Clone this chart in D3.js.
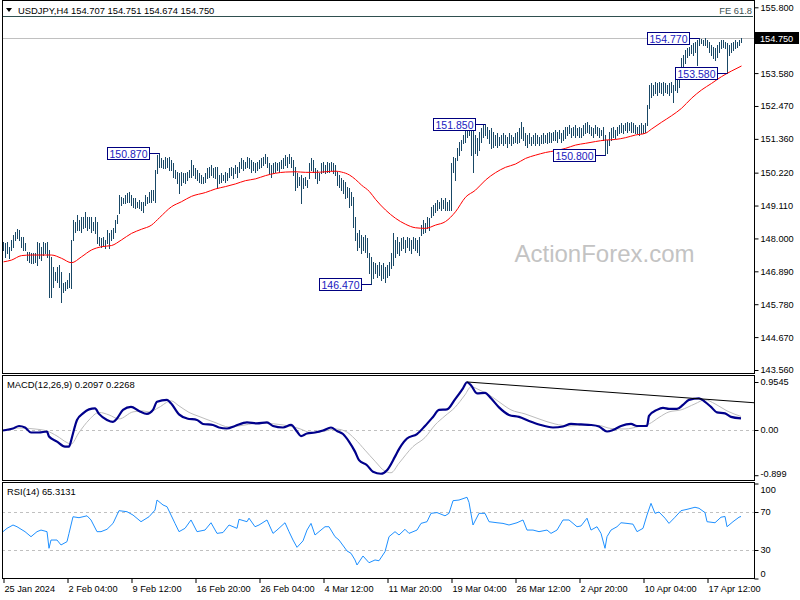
<!DOCTYPE html>
<html><head><meta charset="utf-8">
<script src="https://cdn.jsdelivr.net/npm/d3@7"></script>
<style>
body{margin:0;background:#fff}
svg{display:block}
text{font-family:"Liberation Sans",Arial,sans-serif}
</style>
</head><body>
<svg id="c" width="800" height="600"></svg>
<script>
// ---------------- DATA ----------------
const title = "USDJPY,H4  154.707 154.751 154.674 154.750";
const macdTitle = "MACD(12,26,9) 0.2097 0.2268";
const rsiTitle = "RSI(14) 65.3131";
const feLabel = "FE 61.8";
const fePrice = 155.52;
const lastPrice = 154.750;

const highs = [
147.89,147.83,147.89,147.72,147.95,148.12,148.23,148.31,148.28,148.06,
148.06,147.83,147.55,147.55,147.50,147.50,147.50,147.89,147.83,147.72,
147.89,147.83,147.89,147.61,147.38,147.05,146.88,147.05,147.10,146.88,
146.48,146.54,146.60,146.82,147.95,148.62,148.57,148.79,148.62,148.73,
148.73,148.90,148.73,148.73,148.73,148.57,148.73,148.57,148.06,148.00,
148.06,147.95,148.28,148.17,148.28,148.34,148.62,148.79,149.47,149.41,
149.35,149.47,149.52,149.58,149.47,149.35,149.35,149.24,149.30,149.24,
149.24,149.47,149.41,149.58,149.63,149.63,150.31,150.82,150.87,150.70,
150.65,150.76,150.70,150.76,150.65,150.53,150.31,150.25,150.20,150.25,
150.20,150.20,150.25,150.31,150.65,150.48,150.37,150.31,150.20,150.14,
150.08,150.20,150.37,150.42,150.48,150.37,150.42,150.42,150.14,150.20,
150.14,150.25,150.20,150.37,150.42,150.37,150.48,150.42,150.59,150.70,
150.65,150.59,150.76,150.70,150.65,150.59,150.53,150.59,150.65,150.70,
150.76,150.85,150.76,150.53,150.48,150.53,150.59,150.53,150.59,150.65,
150.70,150.81,150.76,150.85,150.76,150.65,150.42,150.20,150.08,150.14,
150.03,150.08,149.97,150.53,150.70,150.65,150.37,150.31,150.20,150.53,
150.59,150.48,150.59,150.53,150.59,150.53,150.48,150.25,150.14,150.03,
149.97,149.92,149.75,149.69,149.58,149.41,148.73,148.17,148.28,148.12,
148.06,148.12,148.00,147.50,147.38,147.22,147.16,147.10,147.22,147.10,
147.16,147.05,147.10,147.22,147.50,148.17,147.95,148.06,147.89,148.00,
148.06,147.95,148.06,148.00,147.95,148.06,148.00,147.95,148.06,148.45,
148.62,148.51,148.73,148.68,149.07,149.13,149.18,149.30,149.24,149.35,
149.30,149.35,149.24,149.30,150.53,150.76,150.70,151.04,151.27,151.32,
151.49,151.66,151.77,151.82,151.85,151.72,151.49,151.38,151.60,151.72,
151.83,151.85,151.77,151.66,151.72,151.60,151.49,151.55,151.43,151.49,
151.55,151.49,151.43,151.55,151.49,151.43,151.55,151.60,151.72,151.94,
151.77,151.55,151.49,151.55,151.43,151.49,151.55,151.49,151.43,151.49,
151.55,151.49,151.55,151.60,151.55,151.60,151.66,151.60,151.66,151.55,
151.66,151.77,151.77,151.83,151.72,151.77,151.83,151.72,151.77,151.72,
151.83,151.88,151.94,151.83,151.77,151.72,151.83,151.77,151.72,151.66,
151.77,151.49,151.32,151.60,151.72,151.77,151.66,151.77,151.83,151.88,
151.83,151.88,151.94,151.88,151.94,151.88,151.83,151.77,151.83,151.88,
151.83,151.88,152.50,153.18,153.23,153.18,153.29,153.23,153.29,153.23,
153.29,153.23,153.18,153.23,153.29,153.18,153.40,153.35,153.80,154.08,
154.19,154.36,154.41,154.47,154.53,154.58,154.64,154.70,154.77,154.73,
154.70,154.75,154.70,154.64,154.53,154.47,154.41,154.53,154.64,154.70,
154.70,154.64,154.58,154.53,154.58,154.64,154.70,154.64,154.70,154.75
];
const lows = [
147.61,147.38,147.50,147.33,147.61,147.72,147.95,148.00,147.95,147.72,
147.61,147.61,147.27,147.22,147.16,147.16,147.22,147.10,147.33,147.27,
147.44,147.50,147.38,146.03,146.03,146.37,146.60,146.54,146.37,145.87,
146.20,146.26,146.32,146.37,146.32,147.95,148.23,148.28,148.28,148.23,
148.34,148.40,148.28,148.34,148.23,148.28,148.17,147.83,147.78,147.72,
147.78,147.67,147.83,147.67,147.95,148.00,148.23,148.51,148.85,149.13,
149.18,149.18,149.24,149.24,149.13,149.07,149.02,149.07,149.02,148.96,
148.90,149.13,149.18,149.24,149.24,149.30,149.24,150.20,150.42,150.42,
150.37,150.37,150.42,150.31,150.31,150.08,150.03,149.86,149.52,149.80,
149.92,149.86,149.97,150.08,150.08,150.14,150.03,149.97,149.92,149.86,
149.86,149.92,150.03,150.08,150.14,150.08,150.03,149.69,149.86,149.92,
149.97,149.92,149.97,150.08,150.14,150.03,150.20,150.08,150.25,150.37,
150.31,150.37,150.42,150.37,150.25,150.31,150.25,150.31,150.37,150.42,
150.48,150.53,150.42,150.20,150.08,150.20,150.25,150.31,150.25,150.37,
150.37,150.48,150.42,150.53,150.42,150.14,149.63,149.75,149.80,149.18,
149.69,149.80,149.75,150.03,150.31,150.25,150.03,149.86,149.97,150.20,
150.25,150.20,150.25,150.25,150.31,150.20,150.14,149.80,149.75,149.63,
149.52,149.35,149.41,149.07,149.13,148.40,147.95,147.61,147.72,147.50,
147.61,147.55,147.38,146.82,146.47,146.65,146.82,146.71,146.77,146.60,
146.65,146.54,146.71,146.77,146.99,147.10,147.38,147.50,147.44,147.61,
147.67,147.55,147.72,147.61,147.50,147.67,147.61,147.55,147.44,148.12,
148.17,148.23,148.34,148.28,148.73,148.79,148.90,148.96,149.02,148.96,
149.02,148.96,148.96,148.96,148.96,150.25,149.97,150.65,150.81,150.98,
151.21,151.27,151.43,151.49,150.81,150.25,150.87,150.81,150.98,151.27,
151.43,151.49,151.38,151.21,151.04,151.10,151.15,151.10,151.15,151.21,
151.15,151.21,151.10,151.21,151.15,151.21,151.27,151.21,151.27,151.38,
151.32,151.15,151.10,151.21,151.15,151.21,151.15,151.21,151.15,151.21,
151.21,151.27,151.21,151.27,151.27,151.32,151.32,151.27,151.38,151.27,
151.32,151.38,151.49,151.55,151.43,151.49,151.43,151.49,151.43,151.43,
151.49,151.55,151.60,151.55,151.49,151.43,151.55,151.49,151.43,151.49,
151.32,150.80,150.87,151.15,151.32,151.43,151.38,151.49,151.55,151.60,
151.55,151.66,151.60,151.66,151.60,151.60,151.55,151.55,151.49,151.55,
151.55,151.60,151.83,152.39,152.78,152.84,152.90,152.84,152.95,152.90,
152.84,152.95,152.90,152.84,152.95,152.62,153.01,152.95,153.12,153.63,
153.74,153.91,154.13,154.19,154.25,154.19,154.30,153.85,154.53,154.58,
154.53,154.53,154.47,154.30,154.19,154.08,154.02,154.13,154.30,154.41,
154.47,154.41,153.58,154.19,154.30,154.36,154.41,154.47,154.53,154.64
];

// moving average [bar, value]
const maPts = [[0,147.21],[4,147.27],[9,147.42],[14,147.44],[19,147.44],[24,147.44],[29,147.33],[34,147.18],[39,147.38],[44,147.61],[49,147.72],[54,147.76],[59,147.95],[64,148.17],[69,148.31],[74,148.45],[78,148.70],[84,149.07],[89,149.24],[94,149.42],[101,149.55],[106,149.67],[111,149.75],[116,149.84],[121,149.95],[126,150.01],[131,150.12],[136,150.20],[141,150.24],[146,150.25],[151,150.23],[156,150.23],[161,150.25],[166,150.27],[169,150.24],[173,150.14],[176,149.99],[179,149.80],[183,149.58],[186,149.32],[191,148.96],[196,148.68],[201,148.48],[206,148.36],[211,148.34],[216,148.45],[221,148.57],[226,148.90],[231,149.39],[236,149.63],[241,149.97],[246,150.22],[251,150.40],[256,150.51],[261,150.70],[266,150.81],[271,150.90],[276,150.96],[281,151.04],[286,151.15],[291,151.21],[296,151.27],[301,151.32],[306,151.34],[311,151.40],[316,151.49],[321,151.55],[324,151.69],[329,151.92],[334,152.14],[339,152.39],[344,152.73],[349,153.01],[354,153.23],[359,153.46],[364,153.65],[369,153.82]];

// MACD main [bar, value]
const macdPts = [[0,-0.01],[5,0.03],[8,0.08],[11,0.05],[14,-0.05],[18,-0.05],[22,-0.03],[23,-0.13],[27,-0.23],[31,-0.33],[33,-0.33],[34,-0.22],[35,-0.07],[37,0.20],[40,0.33],[43,0.41],[46,0.43],[48,0.32],[52,0.20],[55,0.16],[57,0.23],[60,0.40],[64,0.46],[68,0.38],[72,0.32],[75,0.40],[77,0.56],[82,0.60],[84,0.53],[88,0.31],[92,0.23],[97,0.20],[100,0.12],[105,0.10],[108,0.05],[112,0.03],[116,0.08],[122,0.15],[127,0.13],[132,0.15],[135,0.08],[140,0.05],[144,0.10],[147,-0.03],[149,-0.12],[152,-0.07],[156,-0.05],[160,-0.01],[164,0.05],[167,-0.02],[170,-0.08],[173,-0.23],[176,-0.43],[178,-0.60],[182,-0.70],[185,-0.83],[189,-0.87],[192,-0.80],[196,-0.53],[198,-0.38],[202,-0.17],[207,-0.08],[211,0.08],[215,0.26],[218,0.40],[222,0.41],[226,0.61],[230,0.83],[232,0.95],[234,0.89],[237,0.73],[241,0.74],[244,0.63],[248,0.45],[253,0.30],[258,0.26],[263,0.18],[268,0.11],[275,0.05],[280,0.07],[284,0.12],[289,0.11],[294,0.10],[298,0.07],[302,-0.03],[305,0.00],[309,0.08],[314,0.12],[317,0.08],[322,0.08],[323,0.28],[327,0.40],[330,0.44],[333,0.42],[337,0.42],[340,0.50],[343,0.60],[348,0.63],[351,0.56],[354,0.46],[357,0.35],[361,0.33],[364,0.26],[369,0.23]];

// MACD signal [bar, value]
const sigPts = [[0,0.00],[8,0.04],[16,0.02],[22,-0.02],[27,-0.12],[32,-0.25],[34,-0.28],[38,-0.05],[43,0.20],[48,0.35],[53,0.30],[58,0.22],[65,0.36],[70,0.38],[73,0.36],[78,0.45],[84,0.58],[88,0.48],[93,0.35],[98,0.27],[106,0.15],[113,0.06],[121,0.10],[128,0.14],[136,0.12],[143,0.08],[148,0.03],[154,-0.05],[161,-0.02],[166,0.02],[171,-0.02],[176,-0.18],[181,-0.40],[186,-0.62],[191,-0.82],[194,-0.85],[198,-0.66],[205,-0.33],[211,-0.15],[216,0.10],[221,0.28],[226,0.45],[231,0.70],[234,0.86],[238,0.80],[243,0.70],[248,0.56],[254,0.40],[261,0.32],[268,0.22],[276,0.12],[283,0.08],[291,0.10],[298,0.09],[304,0.03],[311,0.02],[318,0.07],[323,0.12],[328,0.25],[333,0.36],[339,0.40],[346,0.52],[351,0.60],[356,0.52],[362,0.38],[369,0.27]];

// MACD trendline anchors [bar, value]
const trendPts = [[232,0.955],[348.5,0.62]];

// RSI [bar, value]
const rsiPts = [[0,49.3],[2,52.8],[5,56.3],[7,54.5],[11,49.3],[14,44],[17,49.3],[19,51],[22,49.3],[23,31.8],[24,40.5],[27,40.5],[29,35.3],[32,38.8],[33,47.5],[35,65],[38,64],[42,66],[44,61.6],[47,49.3],[49,49.3],[52,51.8],[55,58],[58,71.4],[62,70.3],[65,66.8],[69,59.8],[73,65],[76,72],[77,82.6],[80,77.4],[82,75.6],[84,66.8],[86,58],[88,49.3],[91,52.8],[94,61.6],[97,49.3],[101,51],[104,58.7],[107,47.5],[110,48.4],[113,56.3],[117,52.8],[118,62.3],[122,59.8],[123,63.5],[126,54.5],[128,56.3],[132,61.6],[135,47.5],[137,51],[141,58.7],[143,49.3],[145,40.5],[147,32.8],[150,39.6],[152,51],[154,58],[156,45.8],[158,49.3],[161,54.5],[163,54.5],[166,44],[168,40.5],[172,29],[174,26.5],[176,19.5],[177,14.2],[180,23.7],[183,16.6],[186,19.5],[188,18.7],[191,28.2],[193,44],[196,49.3],[198,45.8],[201,51.8],[203,47.5],[207,51],[209,58],[212,59.8],[214,68.6],[217,69.4],[221,66],[223,68.6],[225,81.9],[228,82.6],[232,85.5],[233,80.1],[235,56.3],[238,68.6],[241,68.6],[243,59.8],[247,58.7],[250,58],[253,56.3],[257,58.7],[260,61.6],[262,51],[265,51],[268,49.3],[272,51],[274,47.5],[277,51],[280,61.6],[283,61.6],[287,54.5],[289,55.3],[292,63.5],[294,51],[297,54.5],[299,47.5],[301,31.8],[302,44],[304,51],[307,54.5],[309,58.7],[312,58],[315,57.2],[317,49.3],[320,52.8],[322,66.8],[324,79.1],[326,68.6],[328,70],[331,63.5],[333,58],[336,64.5],[339,71.4],[342,72.8],[346,75],[348,73.9],[351,69.4],[352,59.8],[356,58.7],[359,64.5],[361,65.3],[362,54.5],[365,59.8],[368,64.5],[369,65.3]];

const dateTickBars = [0,32,64,96,128,160,192,224,256,288,320,352];
const dateTickLabels = ["25 Jan 2024","2 Feb 04:00","9 Feb 12:00","16 Feb 20:00","26 Feb 04:00","4 Mar 12:00","11 Mar 20:00","19 Mar 04:00","26 Mar 12:00","2 Apr 20:00","10 Apr 04:00","17 Apr 12:00"];
const priceTicks = [155.800,153.580,152.470,151.360,150.220,149.110,148.000,146.890,145.780,144.670,143.560];
const macdTicks = [0.9545,0,-0.899];
const macdTickLabels = ["0.9545","0.00","-0.899"];
const rsiTicks = [100,70,30,0];
const rsiLevels = [70,30];

const markers = [
  {bar:78, price:150.870, label:"150.870"},
  {bar:184, price:146.470, label:"146.470"},
  {bar:241, price:151.850, label:"151.850"},
  {bar:301, price:150.800, label:"150.800"},
  {bar:348, price:154.770, label:"154.770"},
  {bar:362, price:153.580, label:"153.580"}
];

// ---------------- DRAW ----------------
const svg = d3.select("#c");
const barColor = "#194866";
const N = highs.length;

const x = d3.scaleLinear().domain([0,375.5]).range([3,754]);
const yP = d3.scaleLinear().domain([143.56,155.8]).range([370,7.3]);
const yM = d3.scaleLinear().domain([0,0.9545]).range([430,382]);
const yR = d3.scaleLinear().domain([0,100]).range([578.5,483.5]);

const panels = [
  {id:"pm", top:0.5, bot:373.5},
  {id:"pd", top:375.5, bot:480.5},
  {id:"pr", top:482.5, bot:578.5}
];
const defs = svg.append("defs");
panels.forEach(p=>{
  defs.append("clipPath").attr("id",p.id).append("rect")
    .attr("x",3).attr("y",p.top+0.5).attr("width",751).attr("height",p.bot-p.top-1);
});

svg.append("rect").attr("width",800).attr("height",600).attr("fill","#fff");

// ---- main panel
const gm = svg.append("g").attr("clip-path","url(#pm)");
gm.append("text").attr("x",604.5).attr("y",261.5).attr("text-anchor","middle")
  .attr("font-size",24).attr("fill","#c3c3c3").text("ActionForex.com");

gm.append("line").attr("x1",2).attr("x2",753).attr("y1",Math.round(yP(fePrice))+0.5).attr("y2",Math.round(yP(fePrice))+0.5)
  .attr("stroke","#2f4f4f").attr("stroke-width",1);
gm.append("line").attr("x1",2).attr("x2",754).attr("y1",Math.round(yP(lastPrice))+0.5).attr("y2",Math.round(yP(lastPrice))+0.5)
  .attr("stroke","#c0c0c0").attr("stroke-width",1);

gm.selectAll("rect.bar").data(d3.range(N)).join("rect").attr("class","bar")
  .attr("x",i=>Math.round(x(i)))
  .attr("y",i=>Math.round(yP(highs[i])))
  .attr("width",1)
  .attr("height",i=>Math.max(1,Math.round(yP(lows[i]))-Math.round(yP(highs[i]))+1))
  .attr("fill",barColor);

gm.append("path").datum(maPts)
  .attr("d",d3.line().x(d=>x(d[0])+0.5).y(d=>yP(d[1])).curve(d3.curveMonotoneX))
  .attr("fill","none").attr("stroke","#ff0000").attr("stroke-width",1);

// markers
const mk = gm.selectAll("g.mk").data(markers).join("g").attr("class","mk");
mk.append("line")
  .attr("x1",d=>Math.round(x(d.bar))-10).attr("x2",d=>Math.round(x(d.bar))+0.5)
  .attr("y1",d=>Math.round(yP(d.price))+0.5).attr("y2",d=>Math.round(yP(d.price))+0.5)
  .attr("stroke","#000080").attr("stroke-width",1);
mk.append("rect")
  .attr("x",d=>Math.round(x(d.bar))-10-42+0.5).attr("y",d=>Math.round(yP(d.price))-6+0.5)
  .attr("width",42).attr("height",12)
  .attr("fill","#fff").attr("stroke","#000080").attr("stroke-width",1);
mk.append("text")
  .attr("x",d=>Math.round(x(d.bar))-10-21+0.5).attr("y",d=>Math.round(yP(d.price))+4.5)
  .attr("text-anchor","middle").attr("font-size",10.5).attr("fill","#2020c0").text(d=>d.label);

// title
svg.append("path").attr("d","M6,8L12,8L9,12Z").attr("fill","#000");
svg.append("text").attr("x",18).attr("y",13.5).attr("font-size",9.4).attr("fill","#000").text(title);
svg.append("text").attr("x",752).attr("y",13.5).attr("text-anchor","end").attr("font-size",9.4).attr("fill","#3c5050").text(feLabel);

// ---- MACD panel
const gd = svg.append("g").attr("clip-path","url(#pd)");
gd.append("line").attr("x1",2).attr("x2",754).attr("y1",Math.round(yM(0))+0.5).attr("y2",Math.round(yM(0))+0.5)
  .attr("stroke","#c0c0c0").attr("stroke-dasharray","3,3");
gd.append("path").datum(sigPts)
  .attr("d",d3.line().x(d=>x(d[0])).y(d=>yM(d[1])).curve(d3.curveMonotoneX))
  .attr("fill","none").attr("stroke","#bdbdbd").attr("stroke-width",1);
gd.append("path").datum(macdPts)
  .attr("d",d3.line().x(d=>x(d[0])).y(d=>yM(d[1])).curve(d3.curveMonotoneX))
  .attr("fill","none").attr("stroke","#00008b").attr("stroke-width",2.2).attr("stroke-linejoin","round");
const slope = (trendPts[1][1]-trendPts[0][1])/(trendPts[1][0]-trendPts[0][0]);
const tEnd = 376;
gd.append("line").attr("x1",x(trendPts[0][0])).attr("y1",yM(trendPts[0][1]))
  .attr("x2",x(tEnd)).attr("y2",yM(trendPts[0][1]+slope*(tEnd-trendPts[0][0])))
  .attr("stroke","#000").attr("stroke-width",1);
svg.append("text").attr("x",7).attr("y",388).attr("font-size",9.4).attr("fill","#000").text(macdTitle);

// ---- RSI panel
const gr = svg.append("g").attr("clip-path","url(#pr)");
gr.selectAll("line.lvl").data(rsiLevels).join("line").attr("class","lvl")
  .attr("x1",2).attr("x2",754).attr("y1",d=>Math.round(yR(d))+0.5).attr("y2",d=>Math.round(yR(d))+0.5)
  .attr("stroke","#c0c0c0").attr("stroke-dasharray","3,3");
gr.append("path").datum(rsiPts)
  .attr("d",d3.line().x(d=>x(d[0])).y(d=>yR(d[1])))
  .attr("fill","none").attr("stroke","#1e90ff").attr("stroke-width",1);
svg.append("text").attr("x",7).attr("y",495).attr("font-size",9.4).attr("fill","#000").text(rsiTitle);

// ---- panel borders
panels.forEach(p=>{
  svg.append("rect").attr("x",2.5).attr("y",p.top).attr("width",752).attr("height",p.bot-p.top)
    .attr("fill","none").attr("stroke","#000").attr("stroke-width",1);
});

// ---- axes
function styleAxis(g){
  g.select(".domain").remove();
  g.selectAll("text").attr("font-family","Liberation Sans, Arial, sans-serif").attr("font-size",9.2).attr("fill","#000");
  g.selectAll("line").attr("stroke","#000");
}
const axP = svg.append("g").attr("transform","translate(754.5,0)")
  .call(d3.axisRight(yP).tickValues(priceTicks).tickSize(4).tickPadding(2).tickFormat(d3.format(".3f")));
styleAxis(axP);

const axM = svg.append("g").attr("transform","translate(754.5,0)")
  .call(d3.axisRight(yM).tickValues(macdTicks).tickSize(4).tickPadding(2).tickFormat((d,i)=>macdTickLabels[i]));
styleAxis(axM);
axM.selectAll(".tick").filter(d=>d<0).select("text").attr("dy","0.1em");

const axR = svg.append("g").attr("transform","translate(754.5,0)")
  .call(d3.axisRight(yR).tickValues(rsiTicks).tickSize(4).tickPadding(2).tickFormat(d3.format("d")));
styleAxis(axR);
axR.selectAll(".tick").filter(d=>d===100).select("text").attr("dy","0.95em");
axR.selectAll(".tick").filter(d=>d===0).select("text").attr("dy","-0.25em");

// current price box
const yl = Math.round(yP(lastPrice));
svg.append("rect").attr("x",755).attr("y",yl-6).attr("width",44).attr("height",12).attr("fill","#000");
svg.append("text").attr("x",760).attr("y",yl+3.5).attr("font-size",9.2).attr("fill","#fff").text(d3.format(".3f")(lastPrice));

const axX = svg.append("g").attr("transform","translate(0,579)")
  .call(d3.axisBottom(x).tickValues(dateTickBars).tickSize(4).tickPadding(2).tickFormat((d,i)=>dateTickLabels[i]));
styleAxis(axX);
axX.selectAll(".tick line").attr("transform","translate(0.5,0)");
axX.selectAll(".tick text").attr("text-anchor","start").attr("dx","1");
</script>
</body></html>
